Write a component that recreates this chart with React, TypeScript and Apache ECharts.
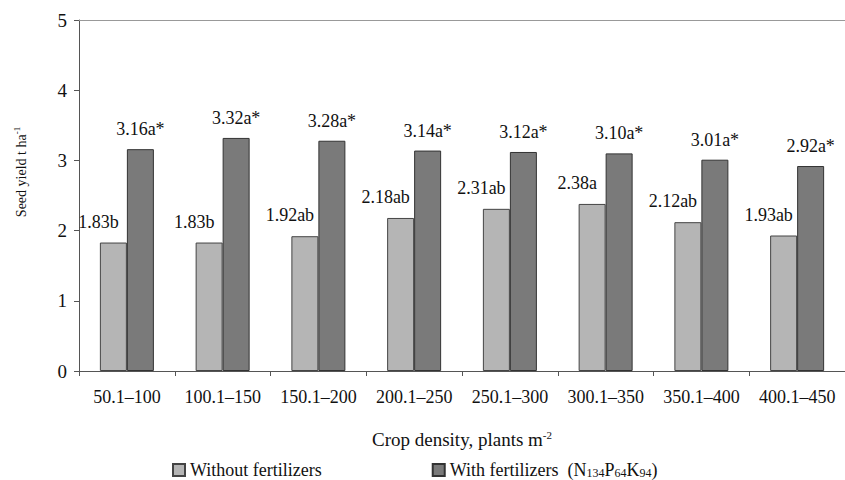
import React, { useEffect, useRef } from "react";
import * as echarts from "echarts";

const categories = ["50.1–100", "100.1–150", "150.1–200", "200.1–250", "250.1–300", "300.1–350", "350.1–400", "400.1–450"];
const withoutFert = [1.83, 1.83, 1.92, 2.18, 2.31, 2.38, 2.12, 1.93];
const withoutLetters = ["b", "b", "ab", "ab", "ab", "a", "ab", "ab"];
const withFert = [3.16, 3.32, 3.28, 3.14, 3.12, 3.1, 3.01, 2.92];
const withLetters = ["a*", "a*", "a*", "a*", "a*", "a*", "a*", "a*"];
const yTicks = [0, 1, 2, 3, 4, 5];

const FONT = "Liberation Serif";

export default function App() {
  const ref = useRef<HTMLDivElement>(null);
  useEffect(() => {
    if (!ref.current) return;
    const chart = echarts.init(ref.current, null, { renderer: "svg" });
    chart.setOption({
      animation: false,
      textStyle: { fontFamily: FONT, color: "#111" },
      grid: { left: 79, right: -3, top: 20, bottom: 109 },
      legend: {
        left: 167,
        top: 456,
        itemWidth: 12,
        itemHeight: 12,
        itemGap: 110,
        icon: "rect",
        textStyle: {
          fontFamily: FONT,
          fontSize: 18,
          color: "#111",
          lineHeight: 18,
          rich: {
            n: { fontFamily: FONT, fontSize: 18, color: "#111", lineHeight: 18 },
            sub: { fontFamily: FONT, fontSize: 12, color: "#111", lineHeight: 12, verticalAlign: "bottom" },
          },
        },
        formatter: (name: string) =>
          name === "With fertilizers"
            ? "{n|With fertilizers  (N}{sub|134}{n|P}{sub|64}{n|K}{sub|94}{n|)}"
            : name,
        data: ["Without fertilizers", "With fertilizers"],
      },
      xAxis: [
        {
          type: "category",
          data: categories,
          position: "bottom",
          axisLine: { lineStyle: { color: "#555", width: 1 } },
          axisTick: { show: true, length: 5, lineStyle: { color: "#555" } },
          axisLabel: { interval: 0, fontFamily: FONT, fontSize: 18, color: "#111", margin: 17 },
          name: "{m|Crop density, plants m}{s|-2}",
          nameLocation: "middle",
          nameGap: 58,
          nameTextStyle: {
            fontFamily: FONT,
            fontSize: 19,
            color: "#111",
            rich: {
              m: { fontFamily: FONT, fontSize: 19, color: "#111" },
              s: { fontFamily: FONT, fontSize: 11, color: "#111", verticalAlign: "top", padding: [0, 0, 10, 0] },
            },
          },
        },
        {
          type: "category",
          data: categories,
          position: "top",
          axisLine: { show: true, lineStyle: { color: "#999", width: 1 } },
          axisTick: { show: false },
          axisLabel: { show: false },
        },
      ],
      yAxis: {
        type: "value",
        min: 0,
        max: 5,
        interval: 1,
        axisLine: { show: true, lineStyle: { color: "#555", width: 1 } },
        axisTick: { show: true, length: 5, lineStyle: { color: "#555" } },
        splitLine: { show: false },
        axisLabel: {
          fontFamily: FONT,
          fontSize: 19,
          color: "#111",
          margin: 12,
          customValues: yTicks,
        },
      },
      graphic: [
        {
          type: "text",
          x: 21,
          y: 172,
          rotation: Math.PI / 2,
          style: {
            text: "{t|Seed yield t ha}{s|-1}",
            align: "center",
            verticalAlign: "middle",
            rich: {
              t: { fontFamily: FONT, fontSize: 14, fill: "#111" },
              s: { fontFamily: FONT, fontSize: 9, fill: "#111", verticalAlign: "top", padding: [0, 0, 8, 0] },
            },
          },
        },
      ],
      series: [
        {
          name: "Without fertilizers",
          type: "bar",
          data: withoutFert,
          barWidth: 27,
          barGap: "0%",
          itemStyle: { color: "#b5b5b5", borderColor: "#444", borderWidth: 1 },
          label: {
            show: true,
            position: "top",
            distance: 12,
            offset: [-15, 0],
            fontFamily: FONT,
            fontSize: 18,
            color: "#111",
            formatter: (p: any) => `${p.value.toFixed(2)}${withoutLetters[p.dataIndex]}`,
          },
        },
        {
          name: "With fertilizers",
          type: "bar",
          data: withFert,
          barWidth: 27,
          barGap: "0%",
          itemStyle: { color: "#7a7a7a", borderColor: "#333", borderWidth: 1 },
          label: {
            show: true,
            position: "top",
            distance: 11,
            offset: [0, 0],
            fontFamily: FONT,
            fontSize: 18,
            color: "#111",
            formatter: (p: any) => `${p.value.toFixed(2)}${withLetters[p.dataIndex]}`,
          },
        },
      ],
    });
    return () => chart.dispose();
  }, []);
  return <div ref={ref} style={{ width: 845, height: 480, position: "fixed", left: 0, top: 0, background: "#fff" }} />;
}
